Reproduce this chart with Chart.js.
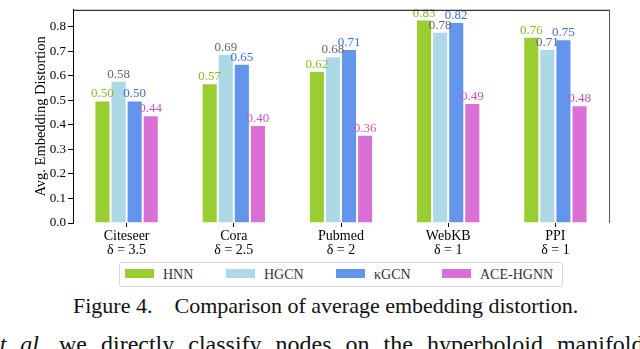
<!DOCTYPE html>
<html>
<head>
<meta charset="utf-8">
<script src="https://cdn.jsdelivr.net/npm/chart.js@4/dist/chart.umd.min.js"></script>
<style>
  html, body { margin: 0; padding: 0; background: #fff; }
  body { width: 640px; height: 349px; overflow: hidden; position: relative; font-family: "Liberation Serif", serif; }
  #wrap { position: absolute; left: 0; top: 0; width: 640px; height: 260px; }
  #legend { position: absolute; left: 119px; top: 262px; width: 444px; height: 25px;
    border: 1px solid #d8d8d8; border-radius: 3px; box-sizing: border-box; }
  .item { position: absolute; top: 5px; height: 14px; font-size: 14px; color: #333; line-height: 14px; white-space: nowrap; }
  .sw { display: inline-block; width: 29px; height: 9px; vertical-align: 1px; margin-right: 9px; }
  #caption { position: absolute; left: 73px; top: 294px; font-size: 22px; line-height: 24px; color: #111; white-space: pre; }
  #caption span { margin-left: 22px; }
  #next { position: absolute; left: -11px; top: 332px; font-size: 24px; line-height: 24px; word-spacing: 8px; color: #111; white-space: pre; }
</style>
</head>
<body>
<div id="wrap"><canvas id="chart"></canvas></div>
<div id="legend"></div>
<div id="caption">Figure 4.<span>Comparison of average embedding distortion.</span></div>
<div id="next"><i>et al.</i> we directly classify nodes on the hyperboloid manifold</div>
<script>
var categories = [['Citeseer', 'δ = 3.5'], ['Cora', 'δ = 2.5'], ['Pubmed', 'δ = 2'], ['WebKB', 'δ = 1'], ['PPI', 'δ = 1']];
var seriesNames = ['HNN', 'HGCN', 'κGCN', 'ACE-HGNN'];
var hnn = [0.50, 0.57, 0.62, 0.83, 0.76];
var hgcn = [0.58, 0.69, 0.68, 0.78, 0.71];
var kgcn = [0.50, 0.65, 0.71, 0.82, 0.75];
var ace = [0.44, 0.40, 0.36, 0.49, 0.48];
var yTicks = [0.0, 0.1, 0.2, 0.3, 0.4, 0.5, 0.6, 0.7, 0.8];

var barColors = ['#9acd32', '#add8e6', '#6495ed', '#da70d6'];
var labelColors = ['#86b82a', '#666666', '#3d6fd6', '#c555c5'];
var serif = '"Liberation Serif", "Times New Roman", serif';

var values = [hnn, hgcn, kgcn, ace];

var dataLabels = {
  id: 'dataLabels',
  afterDatasetsDraw: function(chart) {
    var ctx = chart.ctx;
    ctx.save();
    ctx.font = '13px ' + serif;
    ctx.textAlign = 'center';
    ctx.textBaseline = 'bottom';
    chart.data.datasets.forEach(function(ds, i) {
      chart.getDatasetMeta(i).data.forEach(function(bar, j) {
        ctx.fillStyle = labelColors[i];
        ctx.fillText(ds.data[j].toFixed(2), bar.x, bar.y);
      });
    });
    ctx.restore();
  }
};

var frame = {
  id: 'frame',
  afterDraw: function(chart) {
    var a = chart.chartArea, ctx = chart.ctx;
    ctx.save();
    ctx.lineWidth = 1;
    ctx.strokeStyle = '#000';
    ctx.beginPath();
    ctx.moveTo(a.left, a.top + 0.5);
    ctx.lineTo(a.right + 0.5, a.top + 0.5);
    ctx.stroke();
    ctx.strokeStyle = '#555';
    ctx.beginPath();
    ctx.moveTo(a.right + 0.5, a.top);
    ctx.lineTo(a.right + 0.5, a.bottom);
    ctx.stroke();
    ctx.restore();
  }
};

var options = {
  type: 'bar',
  data: {
    labels: categories,
    datasets: seriesNames.map(function(name, i) {
      return {
        label: name,
        data: values[i],
        backgroundColor: barColors[i],
        borderColor: 'rgba(255,255,255,0.5)',
        borderWidth: 1,
        categoryPercentage: 0.6,
        barPercentage: 1.0
      };
    })
  },
  options: {
    responsive: false,
    animation: false,
    layout: { padding: { top: 1, right: 31, left: 0, bottom: 0 } },
    plugins: {
      legend: { display: false },
      tooltip: { enabled: false },
      title: { display: false }
    },
    scales: {
      x: {
        afterFit: function(s) { s.height = 37; },
        grid: { display: true, drawOnChartArea: false, offset: false, tickLength: 4, color: '#000' },
        border: { display: false },
        ticks: { color: '#000', font: { family: serif, size: 14, lineHeight: 0.95 }, padding: 3, maxRotation: 0 }
      },
      y: {
        min: 0,
        max: 0.87,
        afterFit: function(s) { s.width = 73; },
        afterBuildTicks: function(s) { s.ticks = yTicks.map(function(v) { return { value: v }; }); },
        grid: { display: true, drawOnChartArea: false, tickLength: 5, color: '#000' },
        border: { display: true, color: '#000', width: 1 },
        ticks: {
          color: '#000', padding: 2,
          font: { family: serif, size: 13 },
          callback: function(v) { return v.toFixed(1); }
        },
        title: { display: true, text: 'Avg. Embedding Distortion', color: '#000', font: { family: serif, size: 14.5 }, padding: { top: 32, bottom: 0 } }
      }
    }
  },
  plugins: [dataLabels, frame]
};

var canvas = document.getElementById('chart');
canvas.width = 640;
canvas.height = 260;
var chart = new Chart(canvas, options);

var legend = document.getElementById('legend');
var itemLeft = [5, 106, 216, 322];
seriesNames.forEach(function(name, i) {
  var d = document.createElement('div');
  d.className = 'item';
  d.style.left = itemLeft[i] + 'px';
  d.innerHTML = '<span class="sw" style="background:' + barColors[i] + '"></span>' + name;
  legend.appendChild(d);
});
</script>
</body>
</html>
